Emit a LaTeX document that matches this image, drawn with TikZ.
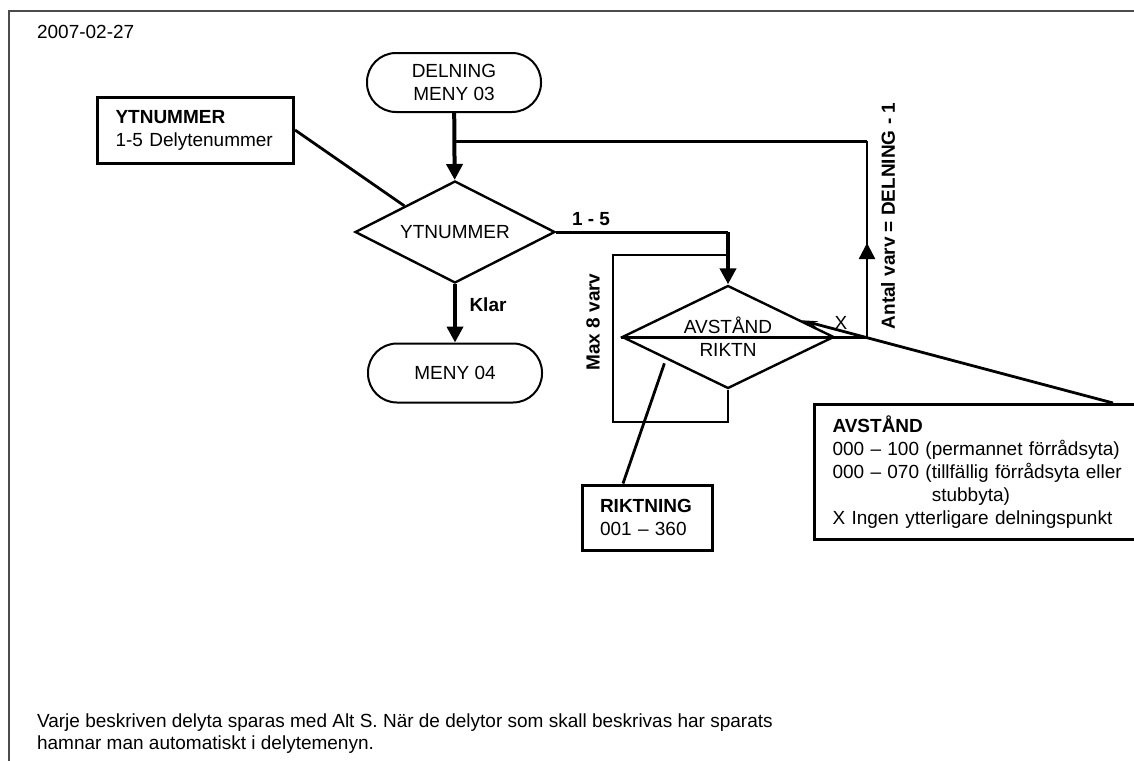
\documentclass[tikz,border=0pt]{standalone}
\usepackage{fontspec}
\setmainfont{Liberation Sans}
\usetikzlibrary{shapes.geometric,arrows.meta,calc}

\begin{document}
\begin{tikzpicture}[x=0.5pt,y=-0.5pt,
    font=\fontsize{9.5}{11.5}\selectfont,
    terminal/.style={draw,line width=1pt,rounded corners=14.5pt,minimum width=87pt,minimum height=29.5pt,align=center,inner sep=0pt},
    decision/.style={draw,diamond,line width=1.2pt,aspect=2,inner sep=0pt,align=center},
    infobox/.style={draw,line width=1.5pt,align=left,inner xsep=9pt,inner ysep=0pt},
    flow/.style={line width=1.5pt},
    boldflow/.style={line width=2pt},
    loopline/.style={line width=1.2pt},
    leader/.style={line width=1.4pt},
    tip/.style={-{Triangle[length=8pt,width=8pt]}},
    lbl/.style={font=\fontsize{9.5}{11.5}\selectfont\bfseries}]
    \useasboundingbox (0,0) rectangle (1134,760);
    \clip (0,0) rectangle (1134,760);
    % page frame
    \draw[line width=1pt,gray!60!black] (9,800) |- (1200,11);
    \node[anchor=west] (date) at (30,32) {2007-02-27};

    % flow nodes
    \node[terminal] (delning) at (454,82.5) {DELNING\\MENY 03};
    \node[decision,minimum width=100pt,minimum height=51pt] (ytdia) at (455,232) {YTNUMMER};
    \node[terminal] (meny) at (455,373) {MENY 04};
    \node[decision,minimum width=106pt,minimum height=51.5pt] (avdia) at (728,337) {AVSTÅND\\RIKTN};

    % info boxes
    \node[infobox,text width=80pt,minimum height=33pt] (ytbox) at (195.5,130) {\textbf{YTNUMMER}\\1-5 Delytenummer};
    \node[infobox,text width=47pt,minimum height=32.5pt] (rikt) at (647,517.5) {\textbf{RIKTNING}\\001 -- 360};
    \node[infobox,anchor=north west,text width=167pt,minimum height=67.5pt] (avbox) at (813,403)
        {\textbf{AVSTÅND}\\000 -- 100 (permannet förrådsyta)\\000 -- 070 (tillfällig förrådsyta eller\\\phantom{000 -- 070 (}stubbyta)\\X Ingen ytterligare delningspunkt};

    % connectors
    \draw[boldflow,tip] (delning) -- (ytdia);
    \draw[boldflow,tip] (ytdia) -- (meny);
    \node[lbl] at (488,305) {Klar};
    \draw[flow] (ytdia.east) -- (ytdia.east -| avdia);
    \draw[boldflow,tip] (ytdia.east -| avdia) -- (avdia.north);
    \node[lbl] at (591,219) {1 - 5};

    % loop round AVSTAND/RIKTN
    \coordinate (loopc) at (613,255);
    \draw[loopline] (avdia.south) -- ++(0,32) -| (loopc) -- (loopc -| avdia.north);
    \node[lbl,rotate=90] at (593,322) {Max 8 varv};

    % way back to YTNUMMER
    \coordinate (join) at (867,337);
    \coordinate (back) at (867,141);
    \draw[flow] (avdia.west) -- (join);
    \draw[loopline] (join) -- (back);
    \draw[loopline,tip] (join) -- ++(0,-94);
    \draw[flow] (back) -- (back -| delning);
    \node at (841,323) {X};
    \node[lbl,rotate=90] at (888,216) {Antal varv = DELNING - 1};

    % leaders from the info boxes
    \draw[leader] (ytbox.east) -- (ytdia.north west);
    \draw[leader] ([xshift=-12pt]rikt.north) -- ([xshift=-5pt]avdia.south west);
    \draw[leader,-{Stealth[length=8pt,width=3pt]}] ([xshift=150pt]avbox.north west) -- ($(avdia.north)!0.68!(avdia.east)$);

    \node[anchor=west,align=left,font=\fontsize{9.5}{11}\selectfont] (note) at (30,734)
        {Varje beskriven delyta sparas med Alt S. När de delytor som skall beskrivas har sparats\\hamnar man automatiskt i delytemenyn.};
\end{tikzpicture}
\end{document}
